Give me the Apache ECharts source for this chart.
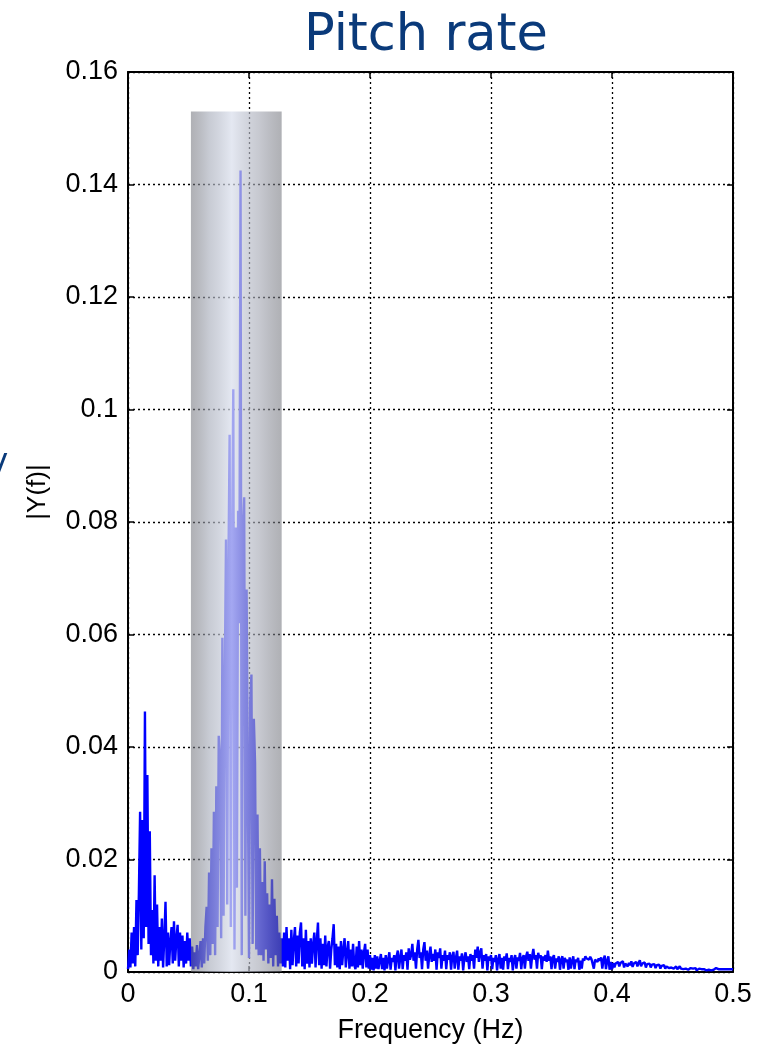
<!DOCTYPE html>
<html>
<head>
<meta charset="utf-8">
<script src="https://cdn.jsdelivr.net/npm/echarts@6/dist/echarts.min.js"></script>
<style>html,body{margin:0;padding:0;background:#fff}#c{width:764px;height:1050px}</style>
</head>
<body>
<div id="c"></div>
<script>
const freqStepHz = 0.001;
const xTicks = { min: 0, max: 0.5, step: 0.1 };
const yTicks = { min: 0, max: 0.16, step: 0.02 };
const bandHz = [0.052, 0.127];
const bandTop = 0.153;

// |Y(f)|, one value per 0.001 Hz
const magLow = [ // 0.000 - 0.051
0.0005,0.0040,0.0008,0.0070,0.0015,0.0080,0.0010,0.0128,0.0030,0.0140,
0.0285,0.0040,0.0270,0.0060,0.0463,0.0080,0.0350,0.0050,0.0250,0.0030,
0.0110,0.0015,0.0172,0.0020,0.0120,0.0010,0.0080,0.0020,0.0095,0.0008,
0.0060,0.0125,0.0010,0.0070,0.0012,0.0055,0.0080,0.0015,0.0090,0.0020,
0.0060,0.0084,0.0010,0.0070,0.0020,0.0065,0.0008,0.0055,0.0015,0.0070,
0.0020,0.0060];
const magBand = [ // 0.052 - 0.127
0.0010,0.0045,0.0005,0.0035,0.0010,0.0048,0.0005,0.0030,
0.0055,0.0008,0.0060,0.0015,0.0080,0.0116,0.0020,0.0177,0.0030,0.0220,
0.0050,0.0285,0.0030,0.0330,0.0080,0.0420,0.0381,0.0060,0.0594,0.0100,
0.0520,0.0769,0.0120,0.0720,0.0955,0.0080,0.0770,0.1036,0.0040,0.0790,
0.0150,0.0820,0.0620,0.1425,0.0030,0.0786,0.0844,0.0100,0.0680,0.0677,
0.0025,0.0480,0.0529,0.0050,0.0450,0.0372,0.0040,0.0280,0.0030,0.0220,
0.0030,0.0160,0.0020,0.0197,0.0040,0.0140,0.0015,0.0120,0.0025,0.0165,
0.0010,0.0130,0.0030,0.0100,0.0010,0.0070,0.0015,0.0060];
const magMid = [ // 0.128 - 0.200
0.0010,0.0070,
0.0008,0.0080,0.0020,0.0060,0.0005,0.0075,0.0012,0.0055,0.0080,0.0010,
0.0065,0.0015,0.0070,0.0088,0.0010,0.0060,0.0005,0.0075,0.0015,0.0055,
0.0008,0.0060,0.0015,0.0050,0.0070,0.0008,0.0055,0.0088,0.0012,0.0060,
0.0006,0.0050,0.0012,0.0065,0.0010,0.0045,0.0055,0.0006,0.0040,0.0060,
0.0085,0.0012,0.0050,0.0008,0.0045,0.0005,0.0055,0.0012,0.0040,0.0060,
0.0008,0.0035,0.0055,0.0006,0.0040,0.0010,0.0050,0.0012,0.0005,0.0045,
0.0008,0.0055,0.0012,0.0040,0.0006,0.0035,0.0050,0.0008,0.0040,0.0006,
0.0030];
const magHigh1 = [ // 0.201 - 0.300
0.0004,0.0025,0.0003,0.0030,0.0006,0.0028,0.0005,0.0020,0.0032,0.0005,
0.0025,0.0003,0.0030,0.0006,0.0022,0.0035,0.0004,0.0025,0.0018,0.0030,
0.0003,0.0028,0.0038,0.0006,0.0025,0.0040,0.0005,0.0030,0.0020,0.0035,
0.0004,0.0042,0.0022,0.0030,0.0050,0.0020,0.0035,0.0006,0.0040,0.0057,
0.0025,0.0035,0.0005,0.0040,0.0053,0.0020,0.0038,0.0006,0.0030,0.0045,
0.0018,0.0032,0.0020,0.0040,0.0004,0.0035,0.0025,0.0042,0.0006,0.0030,
0.0020,0.0038,0.0005,0.0030,0.0022,0.0035,0.0004,0.0028,0.0036,0.0006,
0.0025,0.0038,0.0004,0.0028,0.0020,0.0033,0.0003,0.0025,0.0035,0.0018,
0.0028,0.0005,0.0032,0.0020,0.0030,0.0006,0.0040,0.0025,0.0045,0.0018,
0.0035,0.0042,0.0006,0.0030,0.0020,0.0032,0.0003,0.0028,0.0020,0.0030];
const magHigh2 = [ // 0.301 - 0.400
0.0005,0.0025,0.0018,0.0030,0.0003,0.0022,0.0032,0.0006,0.0025,0.0004,
0.0028,0.0020,0.0033,0.0005,0.0025,0.0018,0.0030,0.0003,0.0022,0.0030,
0.0006,0.0026,0.0020,0.0034,0.0005,0.0025,0.0030,0.0006,0.0028,0.0036,
0.0020,0.0032,0.0006,0.0028,0.0041,0.0022,0.0030,0.0006,0.0034,0.0025,
0.0030,0.0005,0.0028,0.0020,0.0030,0.0018,0.0038,0.0020,0.0028,0.0005,
0.0025,0.0030,0.0006,0.0024,0.0018,0.0028,0.0004,0.0022,0.0028,0.0006,
0.0025,0.0018,0.0022,0.0004,0.0026,0.0006,0.0020,0.0028,0.0005,0.0022,
0.0018,0.0025,0.0004,0.0020,0.0006,0.0024,0.0020,0.0028,0.0024,0.0026,
0.0022,0.0027,0.0023,0.0026,0.0006,0.0022,0.0025,0.0018,0.0024,0.0020,
0.0026,0.0006,0.0022,0.0029,0.0005,0.0020,0.0028,0.0004,0.0018,0.0005];
const magTail = [ // 0.401 - 0.500
0.0016,0.0008,0.0015,0.0012,0.0018,0.0010,0.0016,0.0013,0.0019,0.0008,
0.0015,0.0018,0.0010,0.0016,0.0012,0.0019,0.0009,0.0015,0.0012,0.0018,
0.0010,0.0016,0.0021,0.0010,0.0015,0.0012,0.0017,0.0008,0.0014,0.0011,
0.0015,0.0008,0.0013,0.0010,0.0014,0.0007,0.0012,0.0010,0.0013,0.0006,
0.0011,0.0009,0.0012,0.0006,0.0010,0.0013,0.0007,0.0010,0.0008,0.0011,
0.0006,0.0009,0.0010,0.0005,0.0008,0.0010,0.0006,0.0009,0.0005,0.0008,
0.0006,0.0007,0.0004,0.0006,0.0007,0.0004,0.0006,0.0005,0.0007,0.0003,
0.0005,0.0006,0.0004,0.0005,0.0003,0.0005,0.0006,0.0003,0.0005,0.0004,
0.0006,0.0003,0.0005,0.0004,0.0005,0.0007,0.0004,0.0005,0.0004,0.0005,
0.0005,0.0005,0.0005,0.0005,0.0005,0.0005,0.0005,0.0005,0.0005,0.0005];

const magnitude = [].concat(magLow, magBand, magMid, magHigh1, magHigh2, magTail);
const spectrum = magnitude.map((v, i) => [+(i * freqStepHz).toFixed(3), v]);

const chart = echarts.init(document.getElementById('c'), null, { renderer: 'canvas' });
const labelFont = { color: '#000', fontFamily: 'Liberation Sans, Arial, sans-serif', fontSize: 27 };
const frame = { show: true, onZero: false, lineStyle: { color: '#000', width: 2 } };
const ticks = { show: true, inside: true, length: 6, lineStyle: { color: '#000', width: 1.5 } };
const grid = { show: true, lineStyle: { color: '#000', type: [2, 3], width: 1.3 } };

function bandItem(params, api) {
  const p0 = api.coord([api.value(0), yTicks.min]);
  const p1 = api.coord([api.value(1), api.value(2)]);
  return {
    type: 'rect',
    shape: { x: p0[0], y: p1[1], width: p1[0] - p0[0], height: p0[1] - p1[1] },
    style: {
      fill: new echarts.graphic.LinearGradient(0, 0, 1, 0, [
        { offset: 0, color: 'rgba(110,112,120,0.55)' },
        { offset: 0.2, color: 'rgba(170,175,188,0.65)' },
        { offset: 0.45, color: 'rgba(219,224,237,0.75)' },
        { offset: 0.75, color: 'rgba(165,168,180,0.62)' },
        { offset: 1, color: 'rgba(110,112,120,0.55)' }
      ])
    }
  };
}

chart.setOption({
  animation: false,
  backgroundColor: '#fff',
  title: {
    text: 'Pitch rate', left: 421, top: 6, textAlign: 'center',
    textStyle: { fontFamily: 'DejaVu Sans', fontSize: 51, fontWeight: 'normal', color: '#0a3a7a' }
  },
  grid: { left: 128, right: 31, top: 72, bottom: 78 },
  xAxis: [
    { type: 'value', min: xTicks.min, max: xTicks.max, interval: xTicks.step, position: 'bottom',
      axisLine: frame, axisTick: ticks, splitLine: grid,
      axisLabel: Object.assign({ margin: 9 }, labelFont),
      name: 'Frequency (Hz)', nameLocation: 'middle', nameGap: 45, nameTextStyle: labelFont },
    { type: 'value', min: xTicks.min, max: xTicks.max, interval: xTicks.step, position: 'top',
      axisLine: frame, axisTick: ticks, splitLine: { show: false }, axisLabel: { show: false } }
  ],
  yAxis: [
    { type: 'value', min: yTicks.min, max: yTicks.max, interval: yTicks.step, position: 'left',
      axisLine: frame, axisTick: ticks, splitLine: grid,
      axisLabel: Object.assign({ margin: 10 }, labelFont) },
    { type: 'value', min: yTicks.min, max: yTicks.max, interval: yTicks.step, position: 'right',
      axisLine: frame, axisTick: ticks, splitLine: { show: false }, axisLabel: { show: false } }
  ],
  graphic: [
    { type: 'text', x: 38, y: 492, rotation: Math.PI / 2,
      style: { text: '|Y(f)|', font: '26px "Liberation Sans", Arial, sans-serif', fill: '#000', align: 'center', verticalAlign: 'middle' } },
    { type: 'text', x: -13, y: 452,
      style: { text: 'V', font: '30px "DejaVu Sans"', fill: '#0a3a7a' } }
  ],
  series: [
    { type: 'line', data: spectrum, xAxisIndex: 0, yAxisIndex: 0, showSymbol: false, symbol: 'none',
      sampling: null, lineStyle: { color: '#0000ff', width: 2.4 }, z: 2, silent: true },
    { type: 'custom', renderItem: bandItem, data: [[bandHz[0], bandHz[1], bandTop]],
      xAxisIndex: 0, yAxisIndex: 0, z: 5, silent: true }
  ]
});
</script>
</body>
</html>
